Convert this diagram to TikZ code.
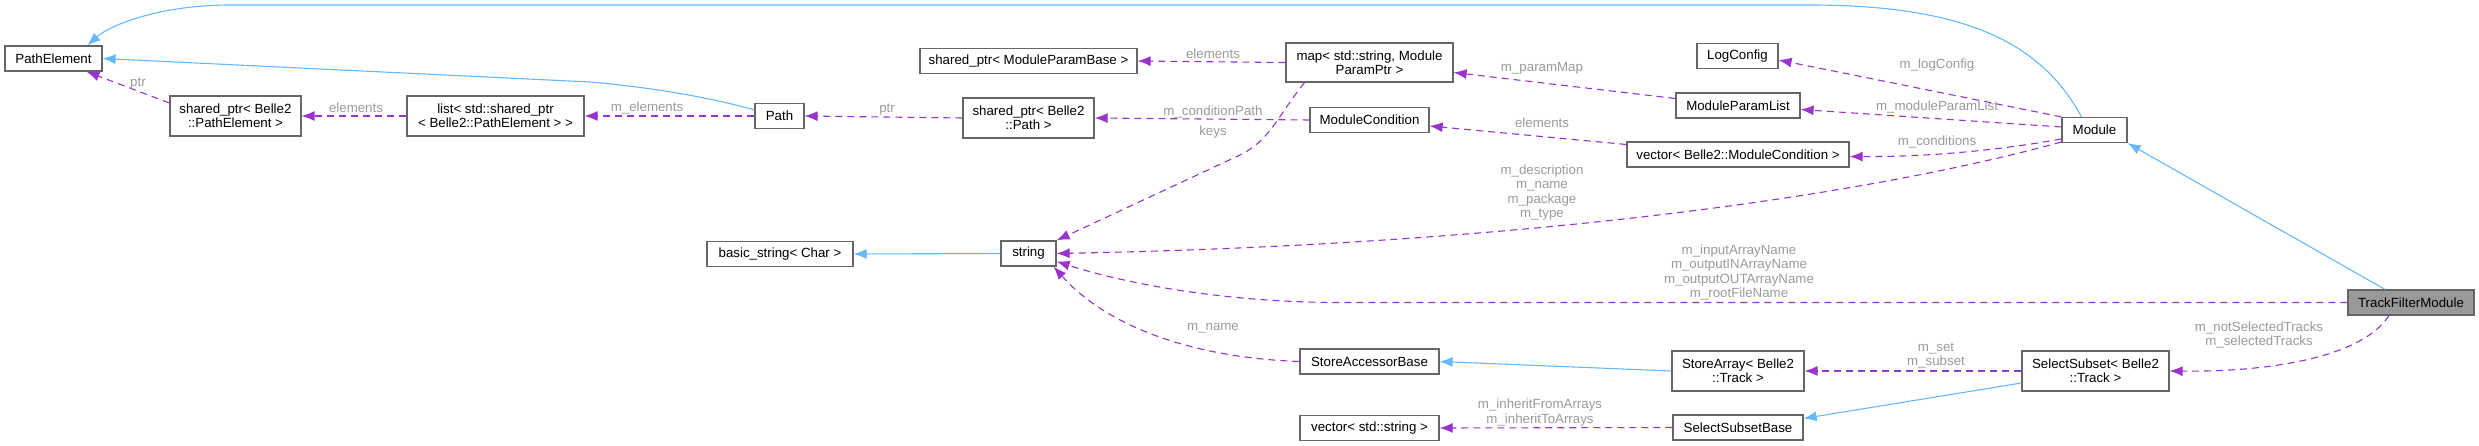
\documentclass[tikz,border=0pt]{standalone}
\usepackage{fontspec}
\setmainfont{Liberation Sans}
\usepackage{tikz}
\usetikzlibrary{arrows.meta,calc,positioning}
\definecolor{inhblue}{HTML}{63B8FF}
\definecolor{usepurple}{HTML}{9A32CD}
\definecolor{lblgray}{HTML}{9A9A9A}
\definecolor{boxgray}{HTML}{666666}
\definecolor{curgray}{HTML}{999999}

\begin{document}
\begin{tikzpicture}[x=1pt,y=-1pt,
	cls/.style={draw=boxgray,line width=1.2pt,fill=white,inner sep=0pt,minimum height=25pt,align=center,font=\fontsize{13.3}{14.3}\selectfont},
	inh/.style={draw=inhblue,line width=1.1pt,-{Latex[length=13pt,width=10pt]}},
	use/.style={draw=usepurple,line width=1.1pt,dash pattern=on 7pt off 5pt,-{Latex[length=13pt,width=10pt]}},
	lbl/.style={text=lblgray,inner sep=0pt,align=center,font=\fontsize{13.3}{14.3}\selectfont}]
	\useasboundingbox (0,0) rectangle (2479,446);
	\node[cls,minimum width=97pt] (pathElem) at (53.5,58.5) {PathElement};
	\node[cls,minimum width=131pt,minimum height=40pt] (spPathElem) at (235.5,116) {shared\_ptr< Belle2\\::PathElement >};
	\node[cls,minimum width=177pt,minimum height=40pt] (listPathElem) at (495.5,116) {list< std::shared\_ptr\\< Belle2::PathElement > >};
	\node[cls,minimum width=49pt] (path) at (779.5,116) {Path};
	\node[cls,minimum width=146pt] (basicString) at (780,254) {basic\_string< Char >};
	\node[cls,minimum width=217pt] (spParamBase) at (1028.5,61) {shared\_ptr< ModuleParamBase >};
	\node[cls,minimum width=131pt,minimum height=40pt] (spPath) at (1028.5,118) {shared\_ptr< Belle2\\::Path >};
	\node[cls,minimum width=55pt] (string) at (1028.5,253.5) {string};
	\node[cls,minimum width=167pt,minimum height=39pt] (paramMap) at (1369.5,62.5) {map< std::string, Module\\ParamPtr >};
	\node[cls,minimum width=119pt] (modCond) at (1369.5,120) {ModuleCondition};
	\node[cls,minimum width=139pt] (storeAccBase) at (1369.5,361.5) {StoreAccessorBase};
	\node[cls,minimum width=139pt] (vecString) at (1369.5,428) {vector< std::string >};
	\node[cls,minimum width=81pt] (logConfig) at (1737.5,56) {LogConfig};
	\node[cls,minimum width=124pt] (paramList) at (1738,105.5) {ModuleParamList};
	\node[cls,minimum width=222pt] (vecModCond) at (1738,154.5) {vector< Belle2::ModuleCondition >};
	\node[cls,minimum width=132pt,minimum height=40pt] (storeArray) at (1738,371) {StoreArray< Belle2\\::Track >};
	\node[cls,minimum width=130pt] (subsetBase) at (1738,427.5) {SelectSubsetBase};
	\node[cls,minimum width=65pt] (module) at (2094.5,130) {Module};
	\node[cls,minimum width=147pt,minimum height=40pt] (subset) at (2095.5,371) {SelectSubset< Belle2\\::Track >};
	\node[cls,fill=curgray,minimum width=126pt] (trackFilter) at (2411,302.5) {TrackFilterModule};
	\draw[inh] ([xshift=-13pt]module.north) .. controls (2040,40) and (1960,5) .. (1809,5) -- (230,5) .. controls (160,5) and (110,25) .. ([xshift=34pt]pathElem.north);
	\draw[inh] ([yshift=6pt]path.west) .. controls (720,100) and (660,88) .. (590,82) -- (pathElem.east);
	\draw[inh] (string.west) -- (basicString.east);
	\draw[inh] ([xshift=-26pt]trackFilter.north) -- (module.south east);
	\draw[inh] (storeArray.west) -- (storeAccBase.east);
	\draw[inh] ([yshift=-12pt]subset.west) -- ([yshift=9pt]subsetBase.east);
	\draw[use] ([yshift=13pt]spPathElem.west) -- ([xshift=33pt]pathElem.south);
	\draw[use] (listPathElem.west) -- (spPathElem.east);
	\draw[use] (path.west) -- (listPathElem.east);
	\draw[use] (spPath.west) -- (path.east);
	\draw[use] (paramMap.west) -- (spParamBase.east);
	\draw[use] ([xshift=-65pt]paramMap.south) .. controls (1275,120) and (1270,140) .. (1240,155) -- (string.north east);
	\draw[use] (modCond.west) -- (spPath.east);
	\draw[use] ([yshift=7pt]paramList.west) -- ([yshift=-10pt]paramMap.east);
	\draw[use] ([yshift=10pt]vecModCond.west) -- ([yshift=-6pt]modCond.east);
	\draw[use] (module.north west) -- ([yshift=-4pt]logConfig.east);
	\draw[use] ([yshift=3pt]module.west) -- ([yshift=-4pt]paramList.east);
	\draw[use] ([yshift=-9pt]module.west) .. controls (2000,150) and (1930,157) .. ([yshift=-2pt]vecModCond.east);
	\draw[use] ([yshift=-12pt]module.west) .. controls (1850,200) and (1500,245) .. (string.east);
	\draw[use] (trackFilter.west) -- (1340,302.5) .. controls (1230,302.5) and (1130,285) .. ([yshift=-8pt]string.east);
	\draw[use] ([xshift=-22pt]trackFilter.south) .. controls (2360,360) and (2260,372) .. (subset.east);
	\draw[use] (subset.west) -- (storeArray.east);
	\draw[use] (subsetBase.west) -- (vecString.east);
	\draw[use] (storeAccBase.west) .. controls (1200,358) and (1110,330) .. ([xshift=-3pt]string.south east);
	\node[lbl] (lPtrA) at (138,84) {ptr};
	\node[lbl] (lElemA) at (356,108) {elements};
	\node[lbl] (lElemB) at (647,108) {m\_elements};
	\node[lbl] (lPtrB) at (887,110) {ptr};
	\node[lbl] (lElemC) at (1213,54) {elements};
	\node[lbl] (lCondPath) at (1213,112) {m\_conditionPath};
	\node[lbl] (lKeys) at (1213,132) {keys};
	\node[lbl] (lParamMap) at (1542,68) {m\_paramMap};
	\node[lbl] (lElemD) at (1542,123) {elements};
	\node[lbl] (lDescr) at (1542,192.5) {m\_description\\m\_name\\m\_package\\m\_type};
	\node[lbl] (lName) at (1213,328) {m\_name};
	\node[lbl] (lInherit) at (1540,412.5) {m\_inheritFromArrays\\m\_inheritToArrays};
	\node[lbl] (lLogConfig) at (1937,65) {m\_logConfig};
	\node[lbl] (lParamList) at (1937,107) {m\_moduleParamList};
	\node[lbl] (lConditions) at (1937,142) {m\_conditions};
	\node[lbl] (lArrays) at (1739,272.5) {m\_inputArrayName\\m\_outputINArrayName\\m\_outputOUTArrayName\\m\_rootFileName};
	\node[lbl] (lSet) at (1936,355.5) {m\_set\\m\_subset};
	\node[lbl] (lTracks) at (2259,335) {m\_notSelectedTracks\\m\_selectedTracks};
\end{tikzpicture}
\end{document}
